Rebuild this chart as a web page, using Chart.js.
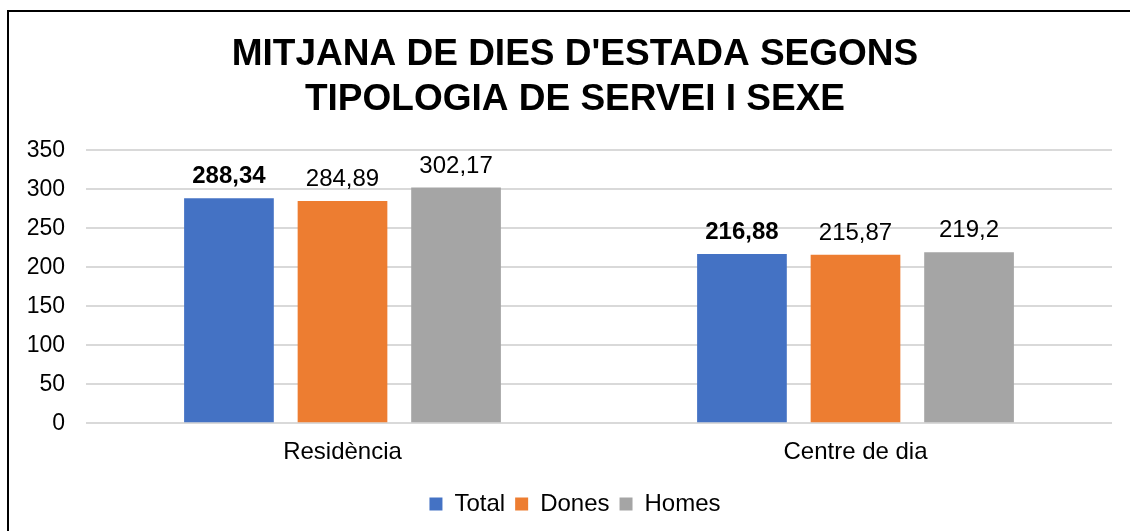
<!DOCTYPE html>
<html>
<head>
<meta charset="utf-8">
<script src="https://cdn.jsdelivr.net/npm/chart.js@4"></script>
<style>
  html, body { margin: 0; padding: 0; background: #fff; overflow: hidden; }
  #wrap { position: relative; width: 1130px; height: 531px; }
  #frame { position: absolute; left: 7px; top: 10px; width: 1160px; height: 560px; border: 2px solid #000; box-sizing: border-box; pointer-events: none; }
  canvas { position: absolute; left: 0; top: 0; }
</style>
</head>
<body>
<div id="wrap">
  <canvas id="stay-chart" width="1130" height="531"></canvas>
  <div id="frame"></div>
</div>
<script>
const FONT = "'Liberation Sans', Arial, sans-serif";

const categories = ['Residència', 'Centre de dia'];
const total = [288.34, 216.88];
const dones = [284.89, 215.87];
const homes = [302.17, 219.2];
const yTicks = [0, 50, 100, 150, 200, 250, 300, 350];

// decimal comma for the value labels
function fmt(v) { return String(v).replace('.', ','); }

// value printed above each bar, bold for the Total series
const barValues = {
  id: 'barValues',
  afterDatasetsDraw(chart) {
    const ctx = chart.ctx;
    ctx.save();
    ctx.textAlign = 'center';
    ctx.textBaseline = 'alphabetic';
    ctx.fillStyle = '#000';
    chart.data.datasets.forEach((ds, i) => {
      const meta = chart.getDatasetMeta(i);
      ctx.font = (i === 0 ? 'bold ' : '') + '24px ' + FONT;
      meta.data.forEach((bar, j) => {
        ctx.fillText(fmt(ds.data[j]), bar.x, bar.y - 15);
      });
    });
    ctx.restore();
  }
};

// y labels overhang the narrow axis box; widen its clip area to the left
const widenYClip = {
  id: 'widenYClip',
  afterLayout(chart) { chart.scales.y.left = 10; }
};

new Chart(document.getElementById('stay-chart').getContext('2d'), {
  type: 'bar',
  data: {
    labels: categories,
    datasets: [
      { label: 'Total', data: total, backgroundColor: '#4472C4' },
      { label: 'Dones', data: dones, backgroundColor: '#ED7D31' },
      { label: 'Homes', data: homes, backgroundColor: '#A5A5A5' }
    ]
  },
  options: {
    responsive: false,
    animation: false,
    // wider left padding keeps title and legend centred on the frame
    layout: { padding: { left: 38, right: 18, top: 0, bottom: 5 } },
    categoryPercentage: 0.664,
    barPercentage: 0.79,
    plugins: {
      title: {
        display: true,
        text: ["MITJANA DE DIES D'ESTADA SEGONS", 'TIPOLOGIA DE SERVEI I SEXE'],
        color: '#000',
        font: { family: FONT, size: 37, weight: 'bold', lineHeight: 1.22 },
        padding: { top: 32, bottom: 28 }
      },
      legend: {
        position: 'bottom',
        labels: {
          color: '#000',
          font: { family: FONT, size: 24 },
          boxWidth: 13,
          boxHeight: 13,
          padding: 10
        }
      },
      tooltip: { enabled: false }
    },
    scales: {
      x: {
        grid: { display: false, drawTicks: false },
        border: { display: false },
        ticks: { color: '#000', font: { family: FONT, size: 24 }, padding: 15 }
      },
      y: {
        min: 0,
        max: 350,
        afterBuildTicks(scale) { scale.ticks = yTicks.map(v => ({ value: v })); },
        afterFit(scale) { scale.width = 48; },
        grid: { color: '#d9d9d9', lineWidth: 2, drawTicks: false },
        border: { display: false },
        ticks: { color: '#000', font: { family: FONT, size: 23 }, padding: 21 }
      }
    }
  },
  plugins: [barValues, widenYClip]
});
</script>
</body>
</html>
